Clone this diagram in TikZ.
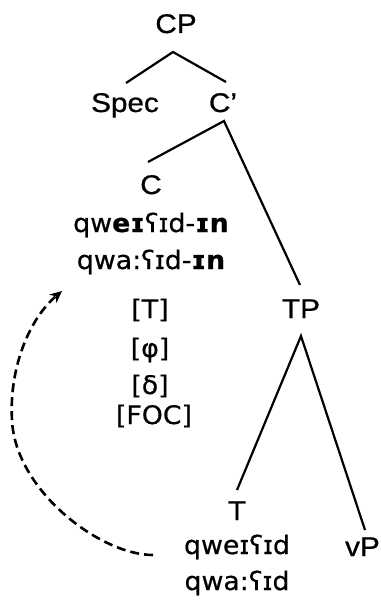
\documentclass[tikz,border=0pt]{standalone}
\usepackage{fontspec}
\usetikzlibrary{arrows.meta}
\setmainfont{Liberation Sans}[FakeStretch=1.1, FakeBold=0.8]
\newfontfamily\ipafont{DejaVu Sans}[FakeStretch=1.05, FakeBold=0.6]
\begin{document}
\begin{tikzpicture}[x=1pt,y=-1pt,
  lab/.style={font=\fontsize{27}{31}\selectfont, inner sep=0pt, anchor=base},
  ipa/.style={font=\ipafont\fontsize{25.5}{30}\selectfont, inner sep=0pt, anchor=base},
  branch/.style={line width=2.2pt},
  mv/.style={line width=2.6pt, dash pattern=on 9pt off 5pt, -{Stealth[length=12pt,width=11pt]}}]
\useasboundingbox (0,0) rectangle (380,610);
\node[lab] (cp) at (176,33) {CP};
\node[lab] (spec) at (125,112) {Spec};
\node[lab] (cbar) at (223,112) {C\char"27};
\node[lab] (c) at (151,194) {C};
\node[ipa] (w1) at (151,232) {qw\textbf{eɪ}ʕɪd-\textbf{ɪn}};
\node[ipa] (w2) at (151,269) {qwa:ʕɪd-\textbf{ɪn}};
\node[ipa] (f1) at (150,318) {[T]};
\node[ipa] (f2) at (150,357) {[φ]};
\node[ipa] (f3) at (150,394) {[δ]};
\node[ipa] (f4) at (154,424) {[FOC]};
\node[lab] (tp) at (301,318) {TP};
\node[lab] (t) at (237,520) {T};
\node[ipa] (w3) at (237,554) {qweɪʕɪd};
\node[ipa] (w4) at (237,590) {qwa:ʕɪd};
\node[lab, anchor=base east] (vp) at (380,556) {vP};
\coordinate (cpb) at (173,52);
\coordinate (specT) at (126,83);
\coordinate (cbarT) at (226,82);
\coordinate (cbarB) at (224,121);
\coordinate (cT) at (148,162);
\coordinate (tpT) at (300,285);
\coordinate (tpB) at (301,336);
\coordinate (tT) at (237,490);
\coordinate (vpT) at (365,530);
\coordinate (mvS) at (153,555);
\coordinate (mvM) at (12,420);
\coordinate (mvE) at (62,291);
\draw[branch] (specT) -- (cpb) -- (cbarT);
\draw[branch] (cT) -- (cbarB) -- (tpT);
\draw[branch] (tT) -- (tpB) -- (vpT);
\draw[mv] (mvS) .. controls (100,555) and (15,490) .. (mvM)
  .. controls (9,370) and (28,320) .. (mvE);
\end{tikzpicture}
\end{document}
